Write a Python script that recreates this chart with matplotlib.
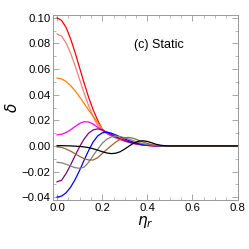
import matplotlib
matplotlib.use("Agg")
import matplotlib.pyplot as plt
from matplotlib.ticker import MultipleLocator

plt.rcParams["font.family"] = ["Liberation Sans", "DejaVu Sans"]

eta = [0.00, 0.02, 0.04, 0.06, 0.08, 0.10, 0.12, 0.14, 0.16, 0.18,
       0.20, 0.22, 0.24, 0.26, 0.28, 0.30, 0.32, 0.34, 0.36, 0.38,
       0.40, 0.42, 0.44, 0.46, 0.48, 0.50, 0.80]

red = [0.1000, 0.0980, 0.0924, 0.0836, 0.0728, 0.0609, 0.0490, 0.0378, 0.0281, 0.0200,
       0.0130, 0.0100, 0.0082, 0.0066, 0.0052, 0.0040, 0.0029, 0.0020, 0.0013, 0.0008,
       0.0004, 0.0002, 0.0001, 0.0, 0.0, 0.0, 0.0]
pink = [0.0875, 0.0857, 0.0804, 0.0724, 0.0625, 0.0518, 0.0411, 0.0313, 0.0228, 0.0160,
        0.0125, 0.0098, 0.0080, 0.0064, 0.0050, 0.0038, 0.0028, 0.0019, 0.0012, 0.0007,
        0.0004, 0.0002, 0.0001, 0.0, 0.0, 0.0, 0.0]
orange = [0.0530, 0.0523, 0.0503, 0.0471, 0.0430, 0.0382, 0.0331, 0.0279, 0.0230, 0.0184,
          0.0130, 0.0100, 0.0080, 0.0063, 0.0049, 0.0037, 0.0027, 0.0018, 0.0011, 0.0007,
          0.0004, 0.0002, 0.0001, 0.0, 0.0, 0.0, 0.0]
magenta = [0.0086, 0.0091, 0.0105, 0.0126, 0.0152, 0.0176, 0.0189, 0.0187, 0.0170, 0.0145,
           0.0122, 0.0100, 0.0082, 0.0066, 0.0052, 0.0040, 0.0029, 0.0020, 0.0013, 0.0008,
           0.0004, 0.0002, 0.0001, 0.0, 0.0, 0.0, 0.0]
purple = [-0.0280, -0.0268, -0.0215, -0.0148, -0.0075, -0.0005, 0.0055, 0.0100, 0.0125, 0.0133,
          0.0125, 0.0108, 0.0090, 0.0072, 0.0056, 0.0042, 0.0030, 0.0021, 0.0014, 0.0008,
          0.0004, 0.0002, 0.0001, 0.0, 0.0, 0.0, 0.0]
blue = [-0.0400, -0.0392, -0.0366, -0.0322, -0.0262, -0.0190, -0.0110, -0.0035, 0.0032, 0.0078,
        0.0102, 0.0108, 0.0100, 0.0086, 0.0070, 0.0054, 0.0040, 0.0028, 0.0018, 0.0011,
        0.0006, 0.0003, 0.0001, 0.0, 0.0, 0.0, 0.0]
gray = [-0.0128, -0.0132, -0.0143, -0.0157, -0.0170, -0.0175, -0.0165, -0.0128, -0.0075, -0.0025,
        0.0020, 0.0052, 0.0070, 0.0076, 0.0073, 0.0064, 0.0052, 0.0039, 0.0027, 0.0017,
        0.0010, 0.0005, 0.0002, 0.0001, 0.0, 0.0, 0.0]
brown = [-0.0008, -0.0012, -0.0024, -0.0041, -0.0061, -0.0082, -0.0100, -0.0110, -0.0110, -0.0092,
         -0.0060, -0.0028, 0.0002, 0.0030, 0.0052, 0.0064, 0.0066, 0.0058, 0.0045, 0.0031,
         0.0019, 0.0010, 0.0005, 0.0002, 0.0001, 0.0, 0.0]
black = [0.0002, 0.0002, 0.0001, 0.0000, -0.0002, -0.0004, -0.0008, -0.0013, -0.0022, -0.0033,
         -0.0045, -0.0055, -0.0060, -0.0057, -0.0045, -0.0024, 0.0000, 0.0022, 0.0036, 0.0040,
         0.0035, 0.0024, 0.0012, 0.0005, 0.0001, 0.0, 0.0]

series = [
    (red, "#ff0000"),
    (pink, "#f08080"),
    (orange, "#ff8000"),
    (magenta, "#ff00ff"),
    (purple, "#800080"),
    (blue, "#0000ff"),
    (gray, "#808080"),
    (brown, "#996633"),
    (black, "#000000"),
]

fig = plt.figure(figsize=(2.49, 2.49), dpi=100)
ax = fig.add_axes([0.213, 0.197, 0.743, 0.743])

for vals, col in series:
    ax.plot(eta, vals, color=col, lw=0.9)

ax.set_xlim(-0.018, 0.802)
ax.set_ylim(-0.0422, 0.1023)

ax.xaxis.set_major_locator(MultipleLocator(0.2))
ax.xaxis.set_minor_locator(MultipleLocator(0.05))
ax.yaxis.set_major_locator(MultipleLocator(0.02))
ax.yaxis.set_minor_locator(MultipleLocator(0.01))
ax.xaxis.set_major_formatter(plt.FuncFormatter(lambda v, p: f"{v:.1f}"))
ax.yaxis.set_major_formatter(plt.FuncFormatter(lambda v, p: f"{v:.2f}".replace("-", "\u2212")))

ax.tick_params(which="both", direction="in", top=True, right=True,
               color="#999999", labelsize=8.2, pad=2)
ax.tick_params(which="major", length=4, width=0.6)
ax.tick_params(which="minor", length=2, width=0.5)
for sp in ax.spines.values():
    sp.set_color("#999999")
    sp.set_linewidth(0.7)

ax.set_xlabel(r"$\eta_r$", fontsize=11, labelpad=1)
ax.set_ylabel(r"$\delta$", fontsize=11, labelpad=1)
ax.text(0.45, 0.079, "(c) Static", fontsize=9, ha="center", va="center")

fig.savefig("out.png", dpi=100)
